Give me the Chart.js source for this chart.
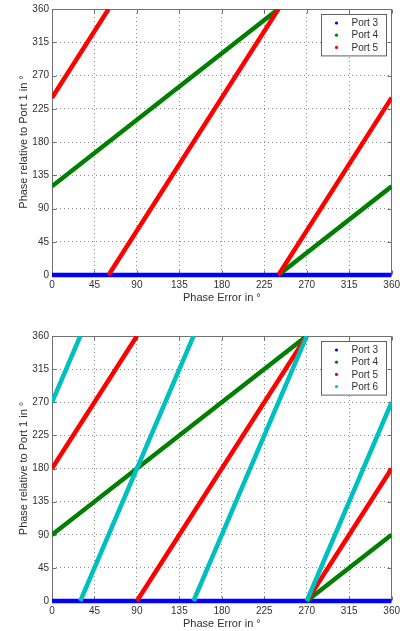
<!DOCTYPE html>
<html><head><meta charset="utf-8">
<script src="https://cdn.jsdelivr.net/npm/chart.js@4/dist/chart.umd.min.js"></script>
<style>
html,body{margin:0;padding:0;background:#fff;overflow:hidden;width:400px;height:631px;}
#c1{position:absolute;left:0;top:0;}
#c2{position:absolute;left:0;top:327px;}
</style></head><body>
<canvas id="c1" width="404" height="306"></canvas>
<canvas id="c2" width="404" height="304"></canvas>
<script>
// ---- data ----
const xTickValues = [0, 45, 90, 135, 180, 225, 270, 315, 360];
const yTickValues = [0, 45, 90, 135, 180, 225, 270, 315, 360];
const xTitle = 'Phase Error in °';
const yTitle = 'Phase relative to Port 1 in °';

// top chart (breaks marked by null)
const top_port3_x = [0, 360];
const top_port3_y = [0, 0];
const top_port4_x = [0, 240, 240, 240, 360];
const top_port4_y = [120, 360, null, 0, 120];
const top_port5_x = [0, 60, 60, 60, 240, 240, 240, 360];
const top_port5_y = [240, 360, null, 0, 360, null, 0, 240];

// bottom chart
const bot_port3_x = [0, 360];
const bot_port3_y = [0, 0];
const bot_port4_x = [0, 270, 270, 270, 360];
const bot_port4_y = [90, 360, null, 0, 90];
const bot_port5_x = [0, 90, 90, 90, 270, 270, 270, 360];
const bot_port5_y = [180, 360, null, 0, 360, null, 0, 180];
const bot_port6_x = [0, 30, 30, 30, 150, 150, 150, 270, 270, 270, 360];
const bot_port6_y = [270, 360, null, 0, 360, null, 0, 360, null, 0, 270];

const labelsTop = ['Port 3', 'Port 4', 'Port 5'];
const labelsBot = ['Port 3', 'Port 4', 'Port 5', 'Port 6'];

// ---- styles ----
const COLORS = ['#0000ff', '#008000', '#ff0000', '#00bfbf'];
const FONT = 'Liberation Sans, Arial, sans-serif';
const TEXT = '#303030';

const framePlugin = {
  id: 'frame',
  beforeDatasetsDraw(chart) {
    const {ctx, chartArea: a, scales} = chart;
    ctx.save();
    ctx.strokeStyle = '#707070';
    ctx.lineWidth = 1;
    const L = Math.round(a.left) + 0.5, R = Math.round(a.right) - 0.5;
    const T = Math.round(a.top) + 0.5, B = Math.round(a.bottom) - 0.5;
    ctx.strokeRect(L, T, R - L, B - T);
    ctx.beginPath();
    scales.x.ticks.forEach(t => {
      const px = Math.round(scales.x.getPixelForValue(t.value)) + 0.5;
      ctx.moveTo(px, B); ctx.lineTo(px, B - 4);
      ctx.moveTo(px, T); ctx.lineTo(px, T + 4);
    });
    scales.y.ticks.forEach(t => {
      const py = Math.round(scales.y.getPixelForValue(t.value)) + 0.5;
      ctx.moveTo(L, py); ctx.lineTo(L + 4, py);
      ctx.moveTo(R, py); ctx.lineTo(R - 4, py);
    });
    ctx.stroke();
    ctx.restore();
  },
  afterDraw(chart) {
    const {ctx, chartArea: a} = chart;
    const ds = chart.data.datasets;
    const n = ds.length;
    const rowH = 12.2, pad = 8.5;
    const w = 65, h = pad * 2 + (n - 1) * rowH;
    const x0 = Math.round(a.right - 71) + 0.5, y0 = Math.round(a.top + 5) + 0.5;
    ctx.save();
    ctx.fillStyle = '#fff';
    ctx.fillRect(x0, y0, w, h);
    ctx.strokeStyle = '#606060';
    ctx.lineWidth = 1;
    ctx.strokeRect(x0, y0, w, h);
    ctx.font = '10px ' + FONT;
    ctx.textBaseline = 'middle';
    ds.forEach((d, i) => {
      const y = y0 + pad + i * rowH;
      ctx.fillStyle = d.borderColor;
      ctx.beginPath();
      ctx.arc(x0 + 15, y, 1.6, 0, Math.PI * 2);
      ctx.fill();
      ctx.fillStyle = TEXT;
      ctx.fillText(d.label, x0 + 30, y + 0.5);
    });
    ctx.restore();
  }
};

function build(xs, ys, labels) {
  return xs.map((xa, i) => ({
    label: labels[i],
    data: xa.map((xv, j) => ({x: xv, y: ys[i][j]})),
    showLine: true,
    spanGaps: false,
    clip: {left: 0, top: 0, right: 0, bottom: 4},
    borderColor: COLORS[i],
    backgroundColor: COLORS[i],
    borderWidth: 4.5,
    borderCapStyle: 'butt',
    pointRadius: 0,
    pointHoverRadius: 0,
    tension: 0,
    order: -i
  }));
}

function makeChart(id, datasets, padTop, xAxisH, titlePadBottom) {
  const tickSetter = vals => s => { s.ticks = vals.map(v => ({value: v})); };
  return new Chart(document.getElementById(id), {
    type: 'scatter',
    data: {datasets},
    options: {
      responsive: false,
      animation: false,
      events: [],
      layout: {padding: {top: padTop, right: 9, left: 0, bottom: 0}},
      plugins: {legend: {display: false}, tooltip: {enabled: false}},
      scales: {
        x: {
          type: 'linear', min: 0, max: 360,
          afterBuildTicks: tickSetter(xTickValues),
          afterFit(s) { s.height = xAxisH; },
          grid: {color: '#8c8c8c', lineWidth: 1, drawTicks: false},
          border: {display: false, dash: [1, 3]},
          ticks: {padding: 4, color: TEXT, font: {family: FONT, size: 10}, maxRotation: 0, autoSkip: false},
          title: {display: true, text: xTitle, color: TEXT, font: {family: FONT, size: 11}, padding: {top: 0, bottom: titlePadBottom}}
        },
        y: {
          type: 'linear', min: 0, max: 360,
          afterBuildTicks: tickSetter(yTickValues),
          afterFit(s) { s.width = 52; },
          grid: {color: '#8c8c8c', lineWidth: 1, drawTicks: false},
          border: {display: false, dash: [1, 3]},
          ticks: {padding: 3, color: TEXT, font: {family: FONT, size: 10}, autoSkip: false},
          title: {display: true, text: yTitle, color: TEXT, font: {family: FONT, size: 11}, padding: {top: 17, bottom: 0}}
        }
      }
    },
    plugins: [framePlugin]
  });
}

makeChart('c1',
  build([top_port3_x, top_port4_x, top_port5_x], [top_port3_y, top_port4_y, top_port5_y], labelsTop),
  8, 31, 1.7);
makeChart('c2',
  build([bot_port3_x, bot_port4_x, bot_port5_x, bot_port6_x], [bot_port3_y, bot_port4_y, bot_port5_y, bot_port6_y], labelsBot),
  8, 30, 0);
</script>
</body></html>
